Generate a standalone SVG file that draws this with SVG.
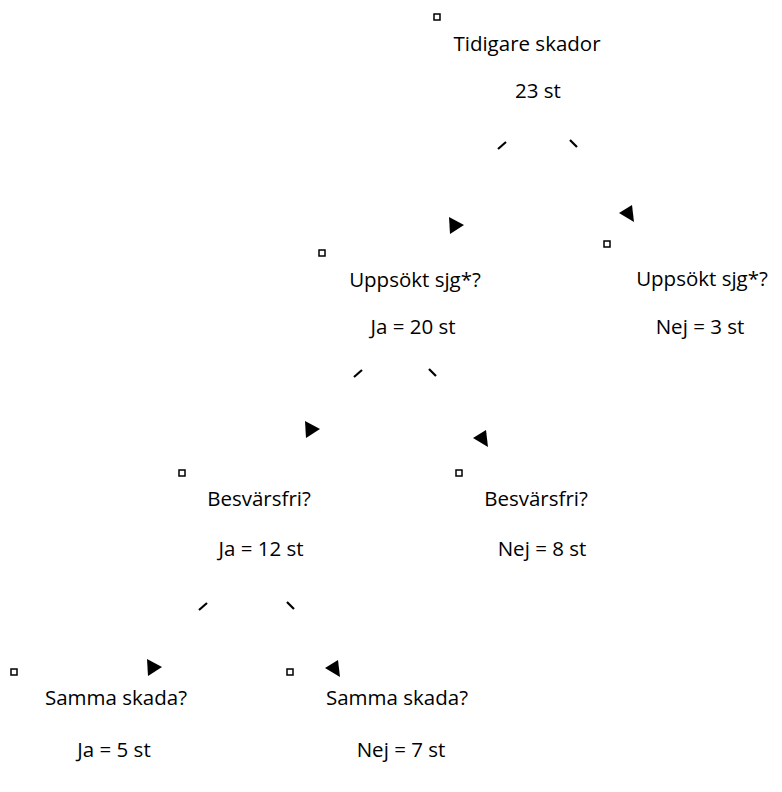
<svg xmlns="http://www.w3.org/2000/svg" width="782" height="792" viewBox="0 0 782 792">
<style>
  .bg { fill: #ffffff; }
  .box { fill: #ffffff; stroke: #000000; stroke-width: 1.5; }
  .t { font-family: "Open Sans", "Noto Sans", "Liberation Sans", sans-serif; font-size: 20.5px; fill: #000000; text-anchor: middle; }
  .tick { stroke: #000000; stroke-width: 2.2; stroke-linecap: butt; fill: none; }
  .head { fill: #000000; stroke: none; }
</style>
<rect class="bg" x="0" y="0" width="782" height="792"/>

<g id="node-tidigare">
  <rect class="box" x="434" y="14" width="6" height="6"/>
  <text class="t" x="527" y="51">Tidigare skador</text>
  <text class="t" x="538" y="98">23 st</text>
</g>

<g id="node-uppsokt-ja">
  <rect class="box" x="319" y="250" width="6" height="6"/>
  <text class="t" x="415" y="287">Uppsökt sjg*?</text>
  <text class="t" x="413" y="334">Ja = 20 st</text>
</g>

<g id="node-uppsokt-nej">
  <rect class="box" x="604" y="241" width="6" height="6"/>
  <text class="t" x="702" y="286">Uppsökt sjg*?</text>
  <text class="t" x="700" y="334">Nej = 3 st</text>
</g>

<g id="node-besvarsfri-ja">
  <rect class="box" x="179" y="470" width="6" height="6"/>
  <text class="t" x="259" y="506">Besvärsfri?</text>
  <text class="t" x="261" y="556">Ja = 12 st</text>
</g>

<g id="node-besvarsfri-nej">
  <rect class="box" x="456" y="470" width="6" height="6"/>
  <text class="t" x="536" y="506">Besvärsfri?</text>
  <text class="t" x="542" y="556">Nej = 8 st</text>
</g>

<g id="node-samma-ja">
  <rect class="box" x="11" y="669" width="6" height="6"/>
  <text class="t" x="116" y="705">Samma skada?</text>
  <text class="t" x="114" y="757">Ja = 5 st</text>
</g>

<g id="node-samma-nej">
  <rect class="box" x="287" y="669" width="6" height="6"/>
  <text class="t" x="397" y="705">Samma skada?</text>
  <text class="t" x="401" y="757">Nej = 7 st</text>
</g>

<g id="connectors">
  <line class="tick" x1="498" y1="149" x2="506" y2="142"/>
  <line class="tick" x1="570" y1="140" x2="577" y2="147"/>
  <polygon class="head" points="449,217 464,225 450,234"/>
  <polygon class="head" points="619,213 632,205 634,222"/>

  <line class="tick" x1="354" y1="377" x2="362" y2="370"/>
  <line class="tick" x1="429" y1="369" x2="436" y2="376"/>
  <polygon class="head" points="305,421 320,429 306,438"/>
  <polygon class="head" points="473,438 486,430 488,447"/>

  <line class="tick" x1="199" y1="610" x2="207" y2="603"/>
  <line class="tick" x1="287" y1="602" x2="294" y2="609"/>
  <polygon class="head" points="147,659 162,667 148,676"/>
  <polygon class="head" points="325,668 338,660 340,677"/>
</g>
</svg>
